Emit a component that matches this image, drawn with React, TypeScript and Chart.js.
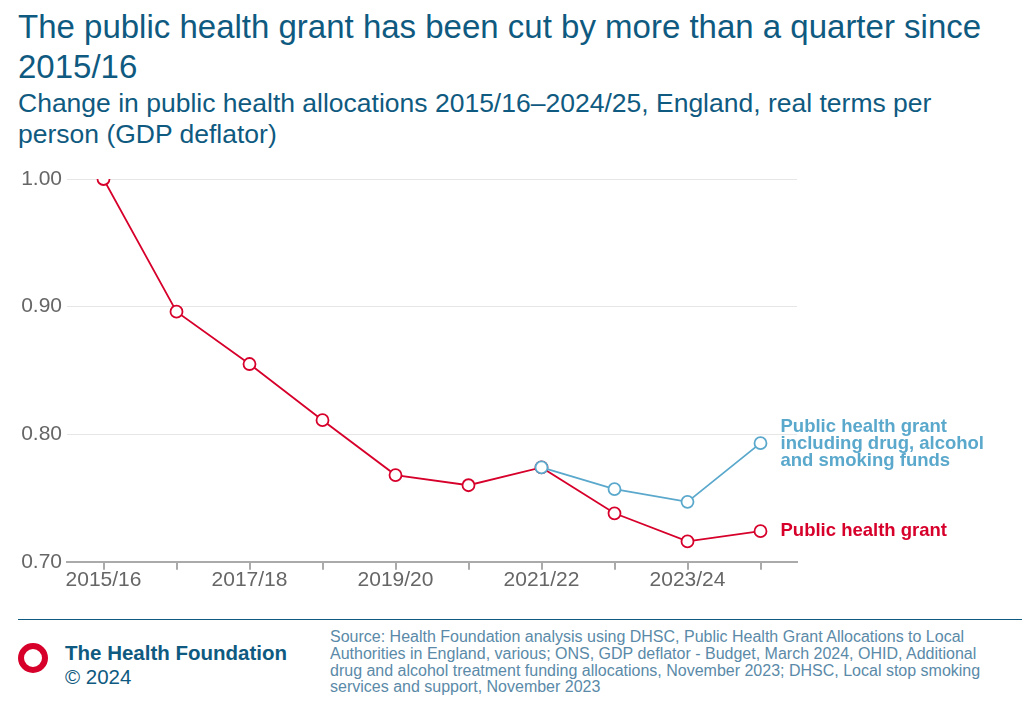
import React, { useEffect, useRef } from "react";
import { Chart, registerables } from "chart.js";
Chart.register(...registerables);

const categories = ["2015/16","2016/17","2017/18","2018/19","2019/20","2020/21","2021/22","2022/23","2023/24","2024/25"];
const grantValues = [1.0, 0.896, 0.855, 0.811, 0.768, 0.760, 0.774, 0.738, 0.716, 0.724];
const grantPlusValues = [null, null, null, null, null, null, 0.774, 0.757, 0.747, 0.793];
const yTicks = [0.7, 0.8, 0.9, 1.0];

const RED = "#d6002b";
const BLUE = "#5aa8cc";
const NAVY = "#0f5a80";

const labelPlugin = {
  id: "endLabels",
  afterDatasetsDraw(chart: any) {
    const ctx = chart.ctx;
    const x = chart.scales.x;
    const y = chart.scales.y;
    const last = categories.length - 1;
    const px = x.getPixelForValue(last) + 20;
    ctx.save();
    ctx.font = "bold 18.5px 'Liberation Sans', Arial, sans-serif";
    ctx.textBaseline = "middle";
    ctx.fillStyle = BLUE;
    const by = y.getPixelForValue(grantPlusValues[last] as number);
    ["Public health grant", "including drug, alcohol", "and smoking funds"].forEach((t, i) => ctx.fillText(t, px, by - 16 + i * 17));
    ctx.fillStyle = RED;
    ctx.fillText("Public health grant", px, y.getPixelForValue(grantValues[last]));
    ctx.restore();
  },
};

export default function App() {
  const ref = useRef<HTMLCanvasElement>(null);
  useEffect(() => {
    const pt = { pointRadius: 6, pointHoverRadius: 6, pointBackgroundColor: "#fff", pointBorderWidth: 1.8, borderWidth: 1.8 };
    const chart = new Chart(ref.current!, {
      type: "line",
      data: {
        labels: categories,
        datasets: [
          { data: grantPlusValues, borderColor: BLUE, pointBorderColor: BLUE, ...pt } as any,
          { data: grantValues, borderColor: RED, pointBorderColor: RED, ...pt } as any,
        ],
      },
      options: {
        animation: false,
        responsive: false,
        layout: { padding: { top: 19, right: 233, bottom: 0, left: 0 } },
        plugins: { legend: { display: false }, tooltip: { enabled: false } },
        scales: {
          x: {
            offset: true,
            grid: { display: true, drawOnChartArea: false, drawTicks: true, tickLength: 8, color: "#aaa", offset: false, lineWidth: 2 },
            border: { color: "#aaa", width: 2 },
            ticks: {
              autoSkip: false, maxRotation: 0, padding: -2,
              color: "#666", font: { size: 21, family: "'Liberation Sans', Arial, sans-serif" },
              callback: (v: any, i: number) => (i % 2 === 0 ? categories[i] : ""),
            },
          },
          y: {
            min: 0.7, max: 1.0,
            afterFit: (s: any) => { s.width = 67; },
            afterBuildTicks: (s: any) => { s.ticks = yTicks.map((v) => ({ value: v })); },
            grid: { color: "#e6e6e6", drawTicks: false },
            border: { display: false },
            ticks: {
              padding: 5, color: "#666", font: { size: 21, family: "'Liberation Sans', Arial, sans-serif" },
              callback: (v: any) => Number(v).toFixed(2),
            },
          },
        },
      },
      plugins: [labelPlugin],
    });
    return () => chart.destroy();
  }, []);
  const font = "'Liberation Sans', Arial, sans-serif";
  return (
    <div style={{ position: "relative", width: 1030, height: 719, margin: -8, background: "#fff", fontFamily: font, overflow: "hidden" }}>
      <div style={{ position: "absolute", left: 18, top: 7, width: 1012, fontSize: 33, lineHeight: "40px", color: NAVY }}>
        The public health grant has been cut by more than a quarter since 2015/16
      </div>
      <div style={{ position: "absolute", left: 18, top: 88, width: 960, fontSize: 26.5, lineHeight: "31px", color: NAVY }}>
        Change in public health allocations 2015/16–2024/25, England, real terms per person (GDP deflator)
      </div>
      <canvas ref={ref} width={1030} height={431} style={{ position: "absolute", left: 0, top: 160 }} />
      <div style={{ position: "absolute", left: 18, top: 619, width: 1007, height: 1, background: NAVY }} />
      <div style={{ position: "absolute", left: 18, top: 643, width: 18, height: 18, borderRadius: "50%", border: "6px solid " + RED }} />
      <div style={{ position: "absolute", left: 65, top: 641, fontSize: 20.5, fontWeight: "bold", color: NAVY }}>The Health Foundation</div>
      <div style={{ position: "absolute", left: 65, top: 665, fontSize: 20.5, color: NAVY }}>© 2024</div>
      <div style={{ position: "absolute", left: 330, top: 629, width: 665, fontSize: 16, lineHeight: "16.8px", color: "#5a8aa8" }}>
        Source: Health Foundation analysis using DHSC, Public Health Grant Allocations to Local Authorities in England, various; ONS, GDP deflator - Budget, March 2024, OHID, Additional drug and alcohol treatment funding allocations, November 2023; DHSC, Local stop smoking services and support, November 2023
      </div>
    </div>
  );
}
